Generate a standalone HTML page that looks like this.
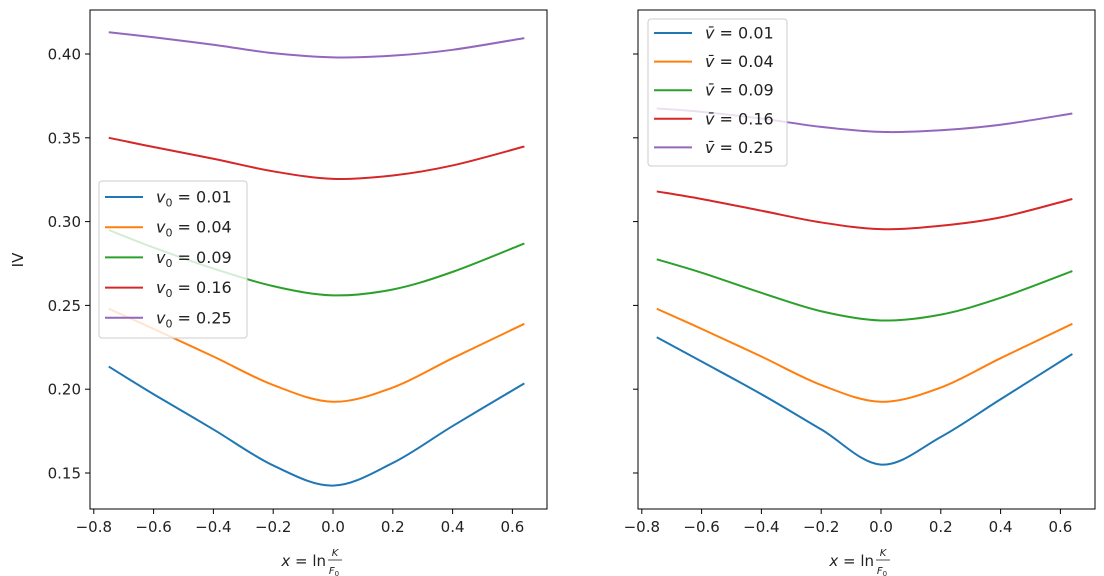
<!DOCTYPE html>
<html><head><meta charset="utf-8"><style>
body{margin:0;background:#fff;}
svg{display:block;font-family:"DejaVu Sans","Liberation Sans",sans-serif;}
</style></head><body>
<svg id="chart" width="1104" height="576"></svg>
<script>
const xs = [-0.75,-0.6,-0.4,-0.2,0,0.2,0.4,0.64];
const leftLabels = ["0.01","0.04","0.09","0.16","0.25"];
const leftS1 = [0.2135,0.197,0.176,0.1545,0.1425,0.156,0.178,0.2035];
const leftS2 = [0.248,0.236,0.2195,0.2025,0.1925,0.201,0.2185,0.239];
const leftS3 = [0.295,0.2845,0.272,0.2615,0.256,0.2595,0.270,0.287];
const leftS4 = [0.350,0.3445,0.3375,0.330,0.3255,0.3275,0.3335,0.3448];
const leftS5 = [0.413,0.410,0.4055,0.4005,0.398,0.3990,0.4025,0.4095];
const rightS1 = [0.231,0.2165,0.197,0.176,0.155,0.1715,0.194,0.221];
const rightS2 = [0.248,0.236,0.2195,0.2025,0.1925,0.201,0.2185,0.239];
const rightS3 = [0.2775,0.2695,0.2575,0.2465,0.241,0.2445,0.2545,0.2705];
const rightS4 = [0.318,0.3135,0.3065,0.2995,0.2955,0.2975,0.3025,0.3135];
const rightS5 = [0.3675,0.3655,0.3615,0.3565,0.3535,0.3545,0.3578,0.3645];
const xTicks = [-0.8,-0.6,-0.4,-0.2,0.0,0.2,0.4,0.6];
const yTicks = [0.15,0.20,0.25,0.30,0.35,0.40];
const colors = ["#1f77b4","#ff7f0e","#2ca02c","#d62728","#9467bd"];

const NS="http://www.w3.org/2000/svg";
const svg=document.getElementById('chart');
function mk(tag,attrs,parent){const e=document.createElementNS(NS,tag);for(const k in attrs)e.setAttribute(k,attrs[k]);(parent||svg).appendChild(e);return e;}
const yScale=v=>54+(0.40-v)/0.05*83.8;
function path(pts){
  let d=`M${pts[0][0]},${pts[0][1]}`;
  for(let i=0;i<pts.length-1;i++){
    const p0=pts[Math.max(0,i-1)],p1=pts[i],p2=pts[i+1],p3=pts[Math.min(pts.length-1,i+2)];
    const c1=[p1[0]+(p2[0]-p0[0])/6,p1[1]+(p2[1]-p0[1])/6];
    const c2=[p2[0]-(p3[0]-p1[0])/6,p2[1]-(p3[1]-p1[1])/6];
    d+=` C${c1[0]},${c1[1]} ${c2[0]},${c2[1]} ${p2[0]},${p2[1]}`;
  }
  return d;
}
function panel(x0,series,prefix,labelFn,legend,showY,name){
  const g=mk('g',{});
  
  
  const xScale=v=>x0+243+v/0.1*29.9;
  series.forEach((s,i)=>{
    const p=mk('path',{d:path(xs.map((x,j)=>[xScale(x),yScale(s[j])])),fill:'none',stroke:colors[i],'stroke-width':2},g);
    
    
  });
  const frame=mk('rect',{x:x0,y:10,width:457,height:499,fill:'none',stroke:'#000','stroke-width':1},g);
  
  
  xTicks.forEach(t=>{
    const x=xScale(t);
    mk('line',{x1:x,x2:x,y1:509,y2:514,stroke:'#000'},g);
    const tx=mk('text',{x:x,y:532,'text-anchor':'middle','font-size':15,fill:'#222'},g);
    tx.textContent=(t<0?'\u2212':'')+Math.abs(t).toFixed(1);
    
    
  });
  yTicks.forEach(t=>{
    const y=yScale(t);
    mk('line',{x1:x0-5,x2:x0,y1:y,y2:y,stroke:'#000'},g);
    if(showY){
      const tx=mk('text',{x:x0-9,y:y+5.5,'text-anchor':'end','font-size':15,fill:'#222'},g);
      tx.textContent=t.toFixed(2);
      
      
    }
  });
  const cx=x0+228;
  const xl=mk('text',{x:cx+8,y:566,'text-anchor':'end','font-size':15,fill:'#222'},g);
  xl.innerHTML='<tspan font-style="italic">x</tspan> = ln';
  
  
  const k=mk('text',{x:cx+17,y:556,'text-anchor':'middle','font-size':10,'font-style':'italic',fill:'#222'},g);
  k.textContent='K';
  
  
  const f=mk('text',{x:cx+16,y:574,'text-anchor':'middle','font-size':10,fill:'#222'},g);
  f.innerHTML='<tspan font-style="italic">F</tspan><tspan font-size="7" dy="2">0</tspan>';
  
  
  mk('line',{x1:cx+10,x2:cx+24,y1:560,y2:560,stroke:'#222','stroke-width':0.8},g);
  const lg=mk('g',{},g);
  
  
  mk('rect',{x:legend.x,y:legend.y,width:legend.w,height:legend.h,rx:3,fill:'rgba(255,255,255,0.8)',stroke:'#ccc'},lg);
  leftLabels.forEach((l,i)=>{
    const y=legend.y+legend.off+i*legend.sp;
    mk('line',{x1:legend.x+6,x2:legend.x+44,y1:y,y2:y,stroke:colors[i],'stroke-width':2},lg);
    const t=mk('text',{x:legend.x+57,y:y+5.5,'font-size':16,fill:'#222'},lg);
    t.innerHTML=labelFn(l);
    
    
  });
}
panel(90,[leftS1,leftS2,leftS3,leftS4,leftS5],'left',l=>'<tspan font-style="italic">v</tspan><tspan font-size="11" dy="4">0</tspan><tspan dy="-4"> = '+l+'</tspan>',{x:99,y:181,w:148,h:157,off:16,sp:30.2},true,'left-panel');
panel(638,[rightS1,rightS2,rightS3,rightS4,rightS5],'right',l=>'<tspan font-style="italic">v̄</tspan> = '+l,{x:648,y:19,w:139,h:147,off:14,sp:28.6},false,'right-panel');
const yl=mk('text',{x:23,y:260,'text-anchor':'middle','font-size':15,fill:'#222',transform:'rotate(-90 23 260)'});
yl.textContent='IV';


</script>
</body></html>
